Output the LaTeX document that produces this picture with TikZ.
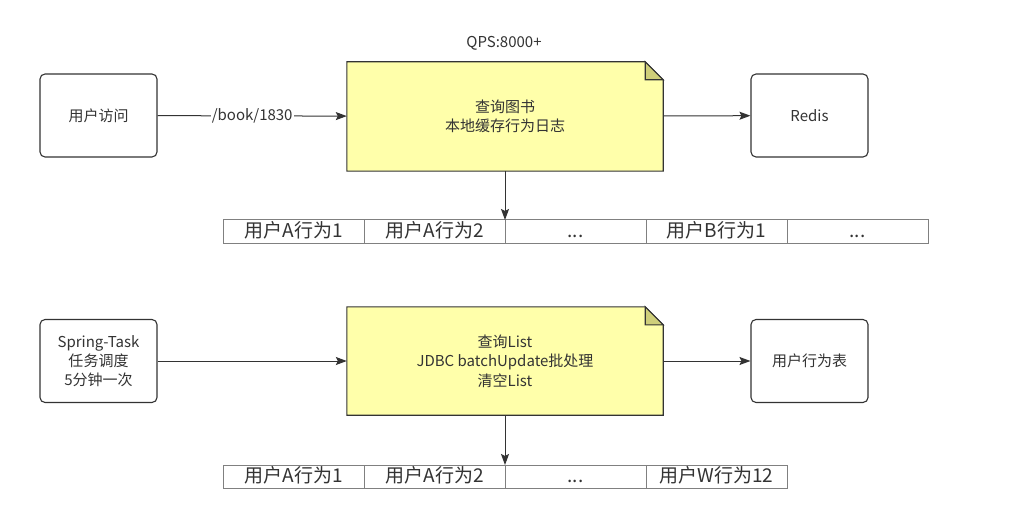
\documentclass[tikz,border=0pt]{standalone}
\usepackage{fontspec}
\setmainfont{Noto Sans CJK SC}
\usepackage{tikz}
\usetikzlibrary{positioning}
\usetikzlibrary{arrows.meta}
\usetikzlibrary{backgrounds}
\definecolor{ink}{RGB}{51,51,51}
\definecolor{notefill}{RGB}{255,255,170}
\definecolor{foldfill}{RGB}{207,207,122}
\definecolor{cellline}{RGB}{128,128,128}
\tikzset{%
  flow/.style = {-{Stealth[length=11pt,width=8pt,inset=2pt]},ink,line width=1pt},
  rbox/.style = {rectangle,draw=ink,line width=1.1pt,rounded corners=5pt,
        minimum width=117pt,minimum height=83pt,align=center,
        text=ink,font=\fontsize{15pt}{19pt}\selectfont},
  notebody/.style = {rectangle,minimum width=316pt,minimum height=109pt,
        align=center,text=ink,font=\fontsize{15pt}{19.5pt}\selectfont},
  noteline/.style = {draw=ink,fill=notefill,line width=1.1pt},
  cellbox/.style = {rectangle,draw=cellline,line width=1pt,outer sep=0pt,
        minimum width=141pt,minimum height=23pt,inner sep=0pt,
        text height=14pt,text depth=3pt,
        text=ink,font=\fontsize{19pt}{19pt}\selectfont}
}

\begin{document}
\begin{tikzpicture}[x=1pt,y=-1pt]
\useasboundingbox (0,0) rectangle (1025,513);
\begin{pgfonlayer}{background}
\fill[white] (0,0) rectangle (1025,513);
\end{pgfonlayer}

% upper part
\node[text=ink,font=\fontsize{15pt}{15pt}\selectfont] (qps) at (504,43) {QPS:8000+};
\node[rbox] (visit) at (98.5,115.5) {用户访问};
\node[notebody] (query) at (505,116.5) {查询图书\\本地缓存行为日志};
\node[rbox] (redis) at (809.5,115.5) {Redis};
\begin{pgfonlayer}{background}
\draw[noteline] (query.south west) -- (query.north west)
    -- ([xshift=-18pt]query.north east) -- ([yshift=-18pt]query.north east)
    -- (query.south east) -- cycle;
\draw[draw=ink,fill=foldfill,line width=1.1pt] ([xshift=-18pt]query.north east)
    -- ([xshift=-18pt,yshift=-18pt]query.north east)
    -- ([yshift=-18pt]query.north east) -- cycle;
\end{pgfonlayer}
\draw[flow] (visit) -- node[fill=white,text=ink,inner sep=1pt,
    font=\fontsize{15pt}{15pt}\selectfont] {/book/1830} (query);
\draw[flow] (query) -- (redis);

\node[cellbox] (a1) at (293.5,231.5) {用户A行为1};
\node[cellbox,right=0pt of a1] (a2) {用户A行为2};
\node[cellbox,right=0pt of a2] (a3) {...};
\node[cellbox,right=0pt of a3] (a4) {用户B行为1};
\node[cellbox,right=0pt of a4] (a5) {...};
\draw[flow] (query.south) -- (a2.north east);

% lower part
\node[rbox] (task) at (98.5,361) {Spring-Task\\任务调度\\5分钟一次};
\node[notebody,minimum height=108pt] (batch) at (505,361) {查询List\\JDBC batchUpdate批处理\\清空List};
\node[rbox] (table) at (809.5,361) {用户行为表};
\begin{pgfonlayer}{background}
\draw[noteline] (batch.south west) -- (batch.north west)
    -- ([xshift=-18pt]batch.north east) -- ([yshift=-18pt]batch.north east)
    -- (batch.south east) -- cycle;
\draw[draw=ink,fill=foldfill,line width=1.1pt] ([xshift=-18pt]batch.north east)
    -- ([xshift=-18pt,yshift=-18pt]batch.north east)
    -- ([yshift=-18pt]batch.north east) -- cycle;
\end{pgfonlayer}
\draw[flow] (task) -- (batch);
\draw[flow] (batch) -- (table);

\node[cellbox] (b1) at (293.5,476.5) {用户A行为1};
\node[cellbox,right=0pt of b1] (b2) {用户A行为2};
\node[cellbox,right=0pt of b2] (b3) {...};
\node[cellbox,right=0pt of b3] (b4) {用户W行为12};
\draw[flow] (batch.south) -- (b2.north east);
\end{tikzpicture}
\end{document}
